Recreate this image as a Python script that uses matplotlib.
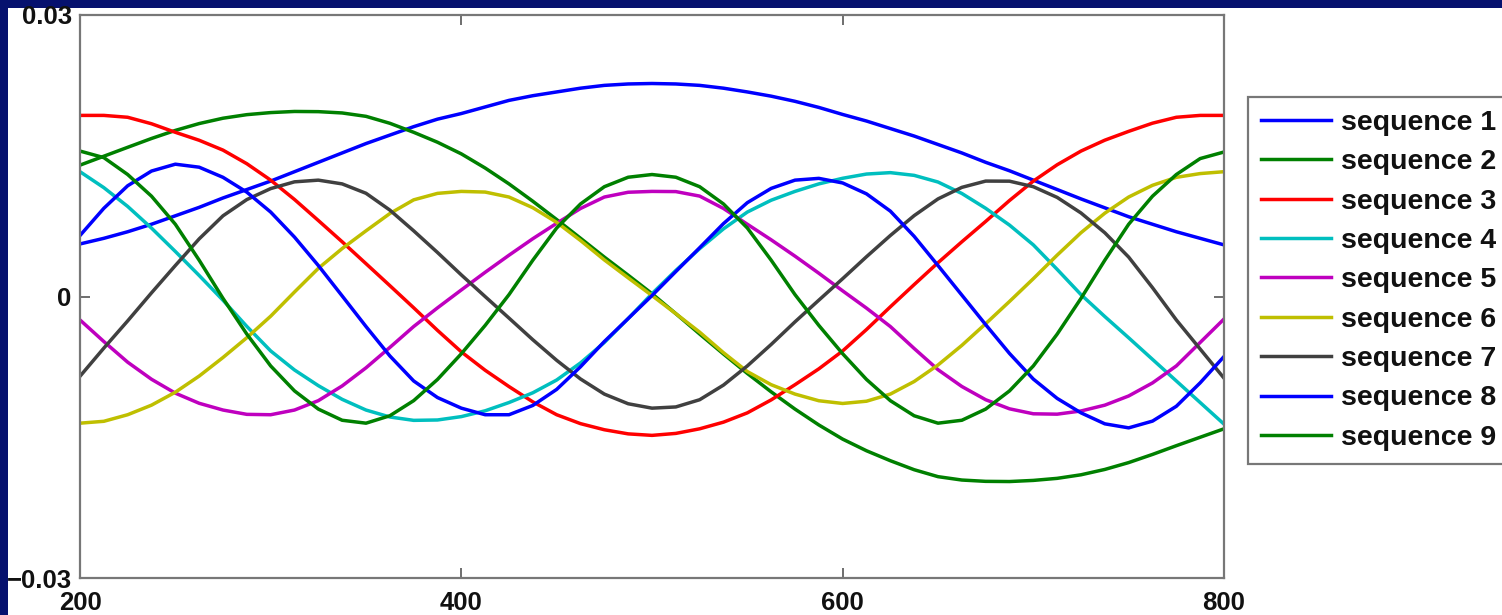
import numpy as np
import matplotlib
matplotlib.use("Agg")
import matplotlib.pyplot as plt
from matplotlib.patches import Rectangle

plt.rcParams['font.family'] = ['Liberation Sans', 'DejaVu Sans']
plt.rcParams['font.weight'] = 'bold'

# sample positions, one reading every 12.5 samples
x = np.arange(200, 800.1, 12.5)

# values, in units of 1e-3
seq1 = [5.6, 6.2, 6.9, 7.7, 8.6, 9.5, 10.5, 11.4, 12.3, 13.3, 14.3, 15.3, 16.3, 17.2, 18.1, 18.9, 19.5, 20.2, 20.9,
        21.4, 21.8, 22.2, 22.5, 22.65, 22.7, 22.65, 22.5, 22.2, 21.8, 21.35, 20.8, 20.15, 19.4, 18.7, 17.9, 17.1,
        16.2, 15.3, 14.3, 13.4, 12.4, 11.4, 10.4, 9.45, 8.5, 7.7, 6.9, 6.2, 5.5]
seq2 = [14.0, 14.95, 15.9, 16.84, 17.7, 18.43, 19.0, 19.38, 19.6, 19.72, 19.7, 19.56, 19.2, 18.46, 17.5, 16.44,
        15.2, 13.69, 12.0, 10.15, 8.2, 6.21, 4.2, 2.27, 0.3, -1.83, -4.0, -6.13, -8.2, -10.16, -12.0, -13.69, -15.2,
        -16.44, -17.5, -18.46, -19.2, -19.56, -19.7, -19.72, -19.6, -19.38, -19.0, -18.43, -17.7, -16.83, -15.9,
        -15.0, -14.1]
seq3 = [19.3, 19.3, 19.1, 18.41, 17.5, 16.65, 15.6, 14.15, 12.4, 10.34, 8.1, 5.83, 3.5, 1.16, -1.2, -3.61, -5.9,
        -7.86, -9.6, -11.23, -12.6, -13.55, -14.2, -14.64, -14.8, -14.59, -14.1, -13.39, -12.4, -11.02, -9.4, -7.71,
        -5.8, -3.52, -1.1, 1.27, 3.6, 5.83, 8.0, 10.23, 12.3, 14.04, 15.5, 16.66, 17.6, 18.47, 19.1, 19.3, 19.3]
seq4 = [13.3, 11.6, 9.6, 7.29, 4.8, 2.24, -0.4, -3.19, -5.8, -7.83, -9.5, -10.96, -12.1, -12.84, -13.2, -13.16,
        -12.8, -12.18, -11.3, -10.26, -8.9, -7.08, -4.9, -2.35, 0.3, 2.78, 5.1, 7.21, 9.0, 10.26, 11.2, 12.0, 12.6,
        13.05, 13.2, 12.91, 12.2, 10.98, 9.4, 7.61, 5.5, 2.89, 0.2, -2.14, -4.4, -6.7, -9.0, -11.3, -13.6]
seq5 = [-2.5, -4.8, -7.0, -8.82, -10.3, -11.38, -12.1, -12.56, -12.6, -12.1, -11.1, -9.53, -7.6, -5.43, -3.2,
        -1.21, 0.7, 2.58, 4.4, 6.16, 7.8, 9.38, 10.6, 11.11, 11.2, 11.18, 10.7, 9.38, 7.7, 6.04, 4.3, 2.48, 0.6,
        -1.24, -3.2, -5.54, -7.8, -9.59, -11.0, -11.97, -12.5, -12.54, -12.2, -11.58, -10.6, -9.21, -7.4, -4.9, -2.4]
seq6 = [-13.5, -13.3, -12.6, -11.58, -10.2, -8.48, -6.5, -4.39, -2.1, 0.48, 3.0, 5.11, 7.0, 8.84, 10.3, 10.99,
        11.2, 11.13, 10.6, 9.46, 7.9, 5.97, 3.9, 1.99, 0.1, -1.83, -3.8, -5.99, -8.0, -9.4, -10.4, -11.11, -11.4,
        -11.16, -10.4, -9.06, -7.3, -5.21, -2.9, -0.53, 1.9, 4.41, 6.8, 8.88, 10.6, 11.85, 12.7, 13.1, 13.3]
seq7 = [-8.5, -5.5, -2.6, 0.39, 3.3, 6.14, 8.6, 10.33, 11.5, 12.22, 12.4, 12.0, 11.0, 9.21, 7.0, 4.69, 2.3, -0.01,
        -2.3, -4.61, -6.8, -8.79, -10.4, -11.43, -11.9, -11.77, -11.0, -9.44, -7.4, -5.11, -2.7, -0.39, 1.9, 4.24,
        6.5, 8.62, 10.4, 11.63, 12.3, 12.29, 11.7, 10.56, 8.9, 6.79, 4.2, 0.94, -2.5, -5.6, -8.7]
seq8 = [6.5, 9.4, 11.8, 13.37, 14.1, 13.78, 12.7, 11.12, 9.0, 6.33, 3.3, 0.06, -3.2, -6.33, -9.0, -10.77, -11.9,
        -12.6, -12.6, -11.61, -9.9, -7.49, -4.8, -2.35, 0.1, 2.66, 5.2, 7.77, 10.0, 11.52, 12.4, 12.59, 12.1, 10.94,
        9.1, 6.41, 3.3, 0.15, -3.0, -6.07, -8.8, -10.86, -12.4, -13.57, -14.0, -13.28, -11.7, -9.2, -6.4]
seq9 = [15.5, 14.8, 13.0, 10.69, 7.7, 3.87, -0.2, -4.01, -7.4, -10.06, -12.0, -13.19, -13.5, -12.71, -11.1, -8.84,
        -6.1, -3.08, 0.2, 3.87, 7.3, 9.86, 11.7, 12.71, 13.0, 12.71, 11.7, 9.86, 7.3, 3.87, 0.2, -3.08, -6.1, -8.84,
        -11.1, -12.71, -13.5, -13.19, -12.0, -10.06, -7.4, -4.01, -0.2, 3.87, 7.7, 10.69, 13.0, 14.7, 15.4]

series = [seq1, seq2, seq3, seq4, seq5, seq6, seq7, seq8, seq9]
labels = ['sequence %d' % (i + 1) for i in range(9)]
colors = ['#0000ff', '#008000', '#ff0000', '#00bfbf', '#bf00bf', '#bfbf00', '#404040', '#0000ff', '#008000']

W, H = 1502, 615
fig = plt.figure(figsize=(W / 100, H / 100), dpi=100, facecolor='#06116e')
# white slide panel
fig.add_artist(Rectangle((8 / W, 0), 1, 1 - 8 / H, transform=fig.transFigure,
                         facecolor='white', edgecolor='none', zorder=-5))

ax = fig.add_axes([80 / W, 1 - 578 / H, (1224 - 80) / W, (578 - 15) / H])
for s, lab, c in zip(series, labels, colors):
    ax.plot(x, np.array(s) * 1e-3, color=c, lw=2.5, label=lab, solid_joinstyle='round')

ax.set_xlim(200, 800)
ax.set_ylim(-0.03, 0.03)
ax.set_xticks([200, 400, 600, 800])
ax.set_yticks([-0.03, 0, 0.03])
ax.set_yticklabels(['\u22120.03', '0', '0.03'])
ax.tick_params(direction='in', length=7, width=1.2, top=True, right=True,
               labelsize=18.5, colors='#555555', labelcolor='#111111')
ax.tick_params(axis='x', pad=9)
ax.tick_params(axis='y', pad=6)
for sp in ax.spines.values():
    sp.set_color('#777777')
    sp.set_linewidth(1.6)

leg = ax.legend(loc='upper left', bbox_to_anchor=(1248 / W, 1 - 97 / H), bbox_transform=fig.transFigure,
                borderaxespad=0, fontsize=20.5, labelspacing=0.47, handlelength=2.45, handletextpad=0.35,
                borderpad=0.45, fancybox=False, framealpha=1, edgecolor='#777777')
leg.get_frame().set_linewidth(1.6)
for t in leg.get_texts():
    t.set_fontweight('bold')
    t.set_color('#111111')

fig.savefig('out.png', dpi=100, facecolor=fig.get_facecolor())
